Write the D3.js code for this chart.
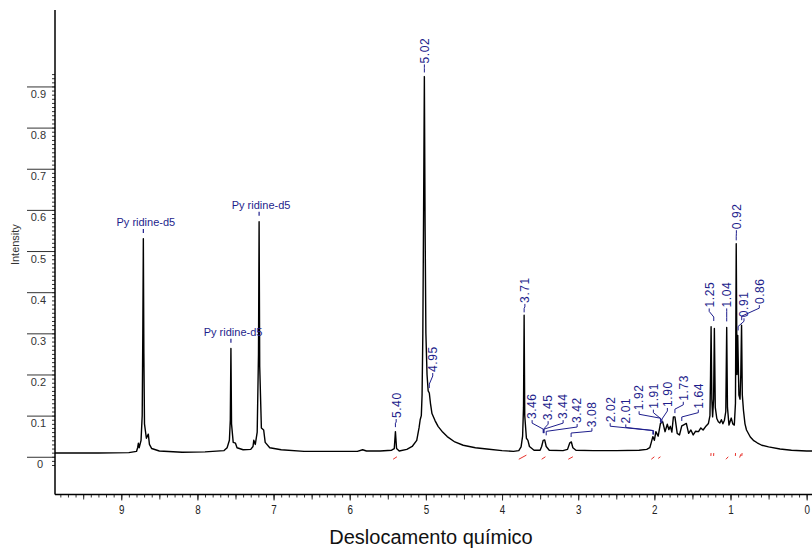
<!DOCTYPE html>
<html>
<head>
<meta charset="utf-8">
<script src="https://cdn.jsdelivr.net/npm/d3@7"></script>
<style>
  body { margin: 0; background: #fff; }
  svg { display: block; }
  .narrow { font-family: "Liberation Sans Narrow", "Arial Narrow", "Liberation Sans", sans-serif; }
</style>
</head>
<body>
<div id="chart"></div>
<script>
// spectrum trace: [ppm, intensity]
const spectrum = [
  [9.87, 0.009], [9.3, 0.009], [8.9, 0.010], [8.80, 0.013], [8.785, 0.022], [8.775, 0.033], [8.765, 0.022],
  [8.74, 0.04], [8.725, 0.10], [8.717, 0.30], [8.71, 0.530], [8.703, 0.25], [8.695, 0.08], [8.67, 0.045],
  [8.645, 0.055], [8.63, 0.03], [8.6, 0.02], [8.5, 0.014], [8.2, 0.011], [7.9, 0.012], [7.65, 0.015],
  [7.61, 0.022], [7.58, 0.04], [7.568, 0.09], [7.56, 0.263], [7.552, 0.08], [7.53, 0.035], [7.50, 0.033],
  [7.48, 0.022], [7.40, 0.017], [7.30, 0.018], [7.27, 0.025], [7.26, 0.04], [7.24, 0.03], [7.215, 0.06],
  [7.198, 0.25], [7.19, 0.571], [7.182, 0.22], [7.16, 0.07], [7.13, 0.065], [7.11, 0.035], [7.05, 0.022],
  [6.9, 0.017], [6.6, 0.013], [6.3, 0.013], [6.1, 0.013], [5.9, 0.013], [5.83, 0.017], [5.78, 0.014],
  [5.6, 0.014], [5.45, 0.016], [5.415, 0.02], [5.40, 0.061], [5.385, 0.02], [5.35, 0.014], [5.25, 0.018],
  [5.18, 0.025], [5.12, 0.04], [5.09, 0.07], [5.075, 0.09], [5.06, 0.10], [5.05, 0.15], [5.04, 0.30],
  [5.03, 0.6], [5.02, 0.924], [5.01, 0.55], [5.00, 0.3], [4.985, 0.2], [4.97, 0.16], [4.955, 0.155],
  [4.94, 0.13], [4.92, 0.105], [4.88, 0.088], [4.84, 0.074], [4.78, 0.06], [4.72, 0.049], [4.62, 0.036],
  [4.51, 0.028], [4.35, 0.022], [4.20, 0.019], [4.00, 0.015], [3.85, 0.013], [3.78, 0.015], [3.75, 0.024],
  [3.73, 0.05], [3.718, 0.12], [3.71, 0.344], [3.702, 0.10], [3.68, 0.045], [3.66, 0.04], [3.64, 0.025],
  [3.58, 0.016], [3.50, 0.016], [3.48, 0.025], [3.46, 0.040], [3.44, 0.041], [3.42, 0.025], [3.38, 0.016],
  [3.2, 0.015], [3.14, 0.018], [3.11, 0.034], [3.09, 0.036], [3.07, 0.022], [3.03, 0.016], [2.8, 0.015],
  [2.5, 0.015], [2.2, 0.016], [2.10, 0.018], [2.06, 0.022], [2.04, 0.035], [2.02, 0.049], [2.00, 0.04],
  [1.98, 0.061], [1.95, 0.05], [1.92, 0.081], [1.89, 0.085], [1.86, 0.061], [1.83, 0.079], [1.81, 0.066],
  [1.79, 0.074], [1.77, 0.06], [1.75, 0.097], [1.73, 0.097], [1.70, 0.057], [1.67, 0.053], [1.64, 0.075],
  [1.62, 0.077], [1.58, 0.081], [1.55, 0.057], [1.52, 0.065], [1.49, 0.053], [1.46, 0.062], [1.42, 0.061],
  [1.39, 0.07], [1.36, 0.065], [1.32, 0.075], [1.29, 0.081], [1.27, 0.10], [1.262, 0.2], [1.255, 0.316],
  [1.245, 0.14], [1.235, 0.097], [1.222, 0.14], [1.212, 0.312], [1.20, 0.12], [1.18, 0.093], [1.16, 0.085],
  [1.14, 0.082], [1.12, 0.09], [1.10, 0.08], [1.08, 0.089], [1.062, 0.11], [1.05, 0.314], [1.04, 0.12],
  [1.02, 0.077], [0.99, 0.094], [0.97, 0.08], [0.95, 0.077], [0.935, 0.13], [0.925, 0.518], [0.915, 0.2],
  [0.905, 0.295], [0.89, 0.15], [0.875, 0.14], [0.865, 0.2], [0.855, 0.32], [0.845, 0.15], [0.83, 0.113],
  [0.81, 0.08], [0.79, 0.065], [0.74, 0.048], [0.70, 0.040], [0.65, 0.034], [0.59, 0.028], [0.5, 0.024],
  [0.35, 0.019], [0.2, 0.016], [0.0, 0.014], [-0.07, 0.014]
];

// peak labels: [text, peak ppm, label ppm, label bottom intensity, leader end intensity]
const peakLabels = [
  ["5.02", 5.02, 5.02, 0.956, 0.934],
  ["4.95", 4.955, 4.91, 0.206, 0.167],
  ["5.40", 5.40, 5.39, 0.094, 0.072],
  ["3.71", 3.71, 3.70, 0.374, 0.351],
  ["3.46", 3.46, 3.605, 0.0915, 0.0575],
  ["3.45", 3.454, 3.395, 0.089, 0.0575],
  ["3.44", 3.448, 3.198, 0.0915, 0.0575],
  ["3.42", 3.42, 3.014, 0.082, 0.052],
  ["3.08", 3.093, 2.82, 0.072, 0.048],
  ["2.02", 2.02, 2.58, 0.084, 0.054],
  ["2.01", 2.01, 2.375, 0.081, 0.054],
  ["1.92", 1.92, 2.20, 0.113, 0.084],
  ["1.91", 1.91, 2.013, 0.117, 0.082],
  ["1.90", 1.90, 1.829, 0.121, 0.082],
  ["1.73", 1.73, 1.62, 0.136, 0.106],
  ["1.64", 1.64, 1.423, 0.117, 0.087],
  ["1.25", 1.22, 1.28, 0.363, 0.33],
  ["1.04", 1.05, 1.05, 0.363, 0.329],
  ["0.92", 0.925, 0.923, 0.553, 0.526],
  ["0.91", 0.90, 0.823, 0.339, 0.307],
  ["0.86", 0.853, 0.622, 0.371, 0.332]
];

// solvent labels: [text, peak ppm, label ppm, text baseline intensity]
const solventLabels = [
  ["Py ridine-d5", 8.71, 8.677, 0.561],
  ["Py ridine-d5", 7.56, 7.532, 0.294],
  ["Py ridine-d5", 7.19, 7.164, 0.603]
];

// integration curve fragments: [ppm from, ppm to, intensity from, intensity to]
const integrals = [
  [5.43, 5.38, -0.006, 0.0], [3.78, 3.68, -0.006, 0.004], [3.48, 3.43, -0.006, 0.0],
  [3.13, 3.07, -0.006, 0.0], [2.04, 2.00, -0.006, 0.0], [1.95, 1.92, -0.004, 0.0],
  [1.258, 1.256, 0.002, 0.009], [1.222, 1.220, 0.002, 0.009], [1.06, 1.03, -0.006, 0.0],
  [0.936, 0.934, 0.002, 0.009], [0.88, 0.865, -0.002, 0.006], [0.852, 0.848, 0.002, 0.009]
];

const xMajor = [0, 1, 2, 3, 4, 5, 6, 7, 8, 9];
const yMajor = [0, 0.1, 0.2, 0.3, 0.4, 0.5, 0.6, 0.7, 0.8, 0.9];

const width = 812, height = 549;
const svg = d3.select("#chart").append("svg")
    .attr("width", width)
    .attr("height", height);

const x = d3.scaleLinear().domain([9.87, -0.07]).range([55, 812]);
const y = d3.scaleLinear().domain([-0.0917, 1.0858]).range([494.5, 10]);

const navy = "#1e1e8c";

// y axis: minor ticks every 0.01
const yMinor = d3.range(-2, 94).map(i => i / 100);
svg.append("g")
    .attr("transform", `translate(${x.range()[0]},0)`)
    .call(d3.axisLeft(y).tickValues(yMinor).tickSize(3).tickFormat(""))
    .call(g => g.select(".domain").remove())
    .call(g => g.selectAll("line").attr("stroke", "#333"));

// y axis: long major ticks with the label under them
const yAxis = svg.append("g")
    .attr("transform", `translate(${x.range()[0]},0)`)
    .call(d3.axisLeft(y).tickValues(yMajor).tickSize(28).tickPadding(-19)
        .tickFormat(d => d === 0 ? "0" : d3.format(".1f")(d)));
yAxis.select(".domain").remove();
yAxis.selectAll("line").attr("stroke", "#333");
yAxis.selectAll("text")
    .attr("dy", "1.0em")
    .attr("dx", d => d === 0 ? -3 : 0)
    .attr("fill", "#333")
    .style("font-family", "'Liberation Sans', Arial, sans-serif")
    .style("font-size", "11px");

svg.append("line")
    .attr("x1", x.range()[0]).attr("x2", x.range()[0])
    .attr("y1", y.range()[1]).attr("y2", y.range()[0])
    .attr("stroke", "#000").attr("stroke-width", 1.5);

// x axis
const xMinor = d3.range(0, 99).map(i => i / 10).filter(v => v <= 9.85);
svg.append("g")
    .attr("transform", `translate(0,${y.range()[0]})`)
    .call(d3.axisBottom(x).tickValues(xMinor).tickSize(3).tickFormat(""))
    .call(g => g.select(".domain").remove())
    .call(g => g.selectAll("line").attr("stroke", "#333"));
svg.append("g")
    .attr("transform", `translate(0,${y.range()[0]})`)
    .call(d3.axisBottom(x).tickValues(xMinor.filter(v => Math.abs(v * 2 - Math.round(v * 2)) < 1e-6)).tickSize(5).tickFormat(""))
    .call(g => g.select(".domain").remove())
    .call(g => g.selectAll("line").attr("stroke", "#333"));
const xAxis = svg.append("g")
    .attr("transform", `translate(0,${y.range()[0]})`)
    .call(d3.axisBottom(x).tickValues(xMajor).tickSize(6).tickPadding(4).tickFormat(d3.format("d")));
xAxis.select(".domain").remove();
xAxis.selectAll("line").attr("stroke", "#333");
xAxis.selectAll("text")
    .attr("class", "narrow")
    .attr("fill", "#222")
    .attr("transform", "scale(0.82,1.05)")
    .style("font-size", "12px");

svg.append("line")
    .attr("x1", x.range()[0]).attr("x2", x.range()[1])
    .attr("y1", y.range()[0]).attr("y2", y.range()[0])
    .attr("stroke", "#000").attr("stroke-width", 1.5);

// spectrum
svg.append("path")
    .datum(spectrum)
    .attr("d", d3.line().x(d => x(d[0])).y(d => y(d[1])))
    .attr("fill", "none")
    .attr("stroke", "#000")
    .attr("stroke-width", 1.4)
    .attr("stroke-linejoin", "round");

// integration fragments
svg.append("g").selectAll("line")
    .data(integrals)
    .join("line")
    .attr("x1", d => x(d[0])).attr("x2", d => x(d[1]))
    .attr("y1", d => y(d[2])).attr("y2", d => y(d[3]))
    .attr("stroke", "#e8302a").attr("stroke-width", 1);

// peak labels with leaders
const pl = svg.append("g");
pl.selectAll("polyline")
    .data(peakLabels)
    .join("polyline")
    .attr("points", d => {
        const lx = x(d[2]), ly = y(d[3]), px = x(d[1]), py = y(d[4]);
        return [[lx, ly + 1], [lx, ly + 4], [px, py - 4], [px, py]].join(" ");
    })
    .attr("fill", "none")
    .attr("stroke", navy)
    .attr("stroke-width", 1);
pl.selectAll("text")
    .data(peakLabels)
    .join("text")
    .attr("transform", d => `translate(${x(d[2])},${y(d[3])}) rotate(-90)`)
    .attr("dy", "0.36em")
    .attr("fill", navy)
    .style("font-family", "'Liberation Sans', Arial, sans-serif")
    .style("font-size", "12px")
    .style("letter-spacing", "0.6px")
    .text(d => d[0]);

// solvent labels
const sl = svg.append("g");
sl.selectAll("text")
    .data(solventLabels)
    .join("text")
    .attr("x", d => x(d[2]))
    .attr("y", d => y(d[3]))
    .attr("text-anchor", "middle")
    .attr("fill", navy)
    .style("font-family", "'Liberation Sans', Arial, sans-serif")
    .style("font-size", "11px")
    .text(d => d[0]);
sl.selectAll("line")
    .data(solventLabels)
    .join("line")
    .attr("x1", d => x(d[1])).attr("x2", d => x(d[1]))
    .attr("y1", d => y(d[3]) + 3).attr("y2", d => y(d[3]) + 7)
    .attr("stroke", navy).attr("stroke-width", 1.2);

// axis titles
svg.append("text")
    .attr("transform", `translate(19,${(y(0) + y(0.9)) / 2 - 27}) rotate(-90)`)
    .attr("text-anchor", "middle")
    .attr("fill", "#333")
    .style("font-family", "'Liberation Sans', Arial, sans-serif")
    .style("font-size", "11px")
    .text("Intensity");

svg.append("text")
    .attr("class", "narrow")
    .attr("x", 431)
    .attr("y", 544)
    .attr("text-anchor", "middle")
    .attr("fill", "#111")
    .style("font-size", "20px")
    .text("Deslocamento químico");
</script>
</body>
</html>
